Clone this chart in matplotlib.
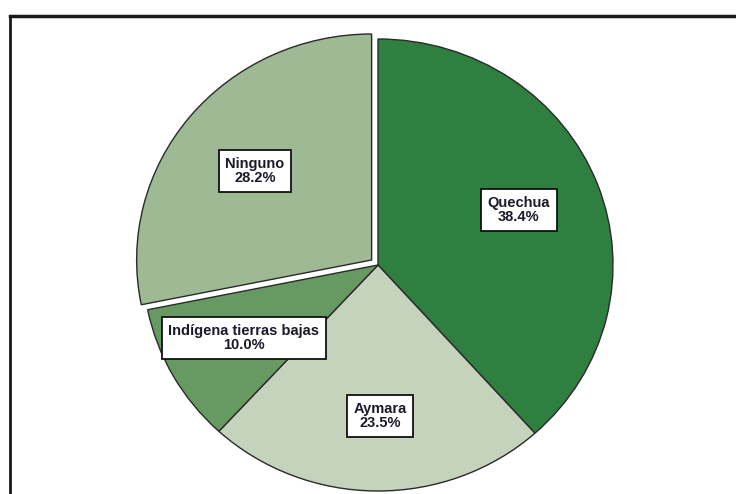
import matplotlib
matplotlib.use("Agg")
import matplotlib.pyplot as plt
from matplotlib.lines import Line2D

categories = ["Quechua", "Aymara", "Indígena tierras bajas", "Ninguno"]
shares = [38.4, 23.5, 10.0, 28.2]
colors = ["#2f8040", "#c5d3bd", "#679a62", "#9eb994"]
explode = [0, 0, 0, 0.035]

# label box centres, in figure pixels from the top-left corner
label_px = [(519, 210), (380, 416), (244, 338), (255, 171)]

W, H = 736, 494
fig = plt.figure(figsize=(W / 100, H / 100), dpi=100)
fig.patch.set_facecolor("white")

# pie centre and radii in pixels
cx, cy, rx, ry = 378, 265, 235, 226
span = 1.1
ax = fig.add_axes([(cx - rx * span) / W, (H - cy - ry * span) / H,
                   2 * rx * span / W, 2 * ry * span / H])

wedges, _ = ax.pie(shares, colors=colors, explode=explode, startangle=90,
                   counterclock=False, radius=1.0,
                   wedgeprops=dict(edgecolor="#2a2a2a", linewidth=1.0))
ax.set_aspect("auto")
ax.set_xlim(-span, span)
ax.set_ylim(-span, span)
ax.axis("off")
for w in wedges:
    w.set_clip_on(False)

for name, val, (px, py) in zip(categories, shares, label_px):
    x = (px - cx) / rx
    y = (cy - py) / ry
    ax.text(x, y, f"{name}\n{val:.1f}%", ha="center", va="center",
            fontsize=10.5, family="Liberation Sans", weight="bold",
            color="#1a1a2a", linespacing=1.0,
            bbox=dict(boxstyle="square,pad=0.45", facecolor="white",
                      edgecolor="#111111", linewidth=1.3))

# outer frame: top and left rules
fig.add_artist(Line2D([10 / W, 1.0], [1 - 16 / H, 1 - 16 / H],
                      transform=fig.transFigure, color="#1a1a1a", lw=2.5))
fig.add_artist(Line2D([10 / W, 10 / W], [1 - 16 / H, 0],
                      transform=fig.transFigure, color="#1a1a1a", lw=2.0))

fig.savefig("out.png", dpi=100)
